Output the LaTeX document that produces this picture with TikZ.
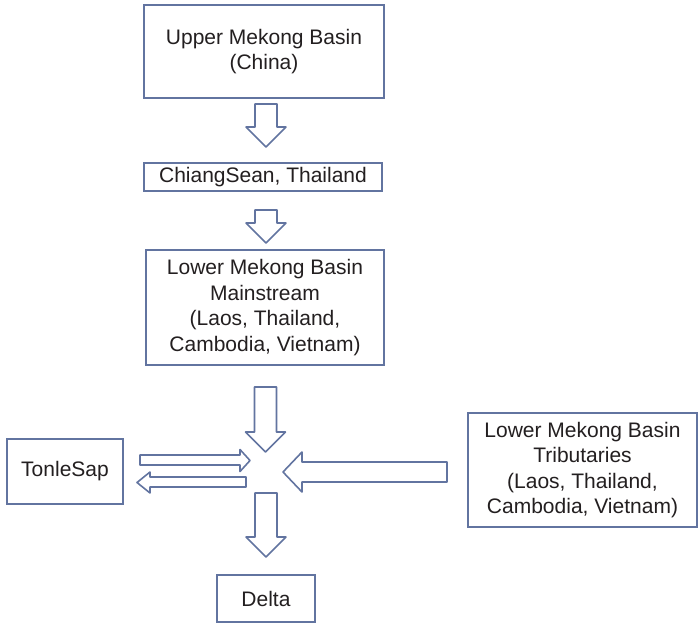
\documentclass[tikz,border=0pt]{standalone}
\usepackage{fontspec}
\setmainfont{Liberation Sans}
\definecolor{edge}{RGB}{98,116,160}
\definecolor{ink}{RGB}{35,31,32}
\newcommand\downblock[3]{%
  \draw[blockarrow] ({#1-11},#2) -- ({#1+11},#2) -- ({#1+11},{#3-20}) -- ({#1+20},{#3-20}) -- (#1,#3) -- ({#1-20},{#3-20}) -- ({#1-11},{#3-20}) -- cycle;}
\begin{document}
\begin{tikzpicture}[x=1pt,y=-1pt,
  box/.style={draw=edge, line width=1.6pt, fill=white, rectangle, inner sep=0pt,
    align=center, text=ink, font=\fontsize{21}{25.5}\selectfont},
  blockarrow/.style={draw=edge, line width=1.6pt, fill=white, line join=round}]
\useasboundingbox[fill=white] (0,0) rectangle (698,624);

\node[box, minimum width=240pt, minimum height=93pt] (upper) at (264,51.5) {Upper Mekong Basin\\(China)};
\node[box, minimum width=238pt, minimum height=28pt] (chiang) at (263,177) {ChiangSean, Thailand};
\node[box, minimum width=238pt, minimum height=115pt] (main) at (265,307.5) {Lower Mekong Basin\\Mainstream\\(Laos, Thailand,\\Cambodia, Vietnam)};
\node[box, minimum width=116pt, minimum height=65pt] (tonle) at (65,471.5) {TonleSap};
\node[box, minimum width=229pt, minimum height=114pt] (trib) at (582.5,470) {Lower Mekong Basin\\Tributaries\\(Laos, Thailand,\\Cambodia, Vietnam)};
\node[box, minimum width=98pt, minimum height=47pt] (delta) at (266,598.5) {Delta};

% vertical block arrows
\downblock{266}{104}{147}
\downblock{266}{210}{243}
\downblock{265.5}{387}{452}
\downblock{266}{493}{557}

% TonleSap outflow (right) and inflow (left)
\draw[blockarrow] (140,455) -- (240,455) -- (240,449.5) -- (250,460.5) -- (240,471.5) -- (240,465) -- (140,465) -- cycle;
\draw[blockarrow] (246,477) -- (150,477) -- (150,472) -- (137,482.5) -- (150,493) -- (150,487) -- (246,487) -- cycle;

% tributaries inflow
\draw[blockarrow] (447,462) -- (302,462) -- (302,452) -- (283,472) -- (302,492) -- (302,482) -- (447,482) -- cycle;
\end{tikzpicture}
\end{document}
